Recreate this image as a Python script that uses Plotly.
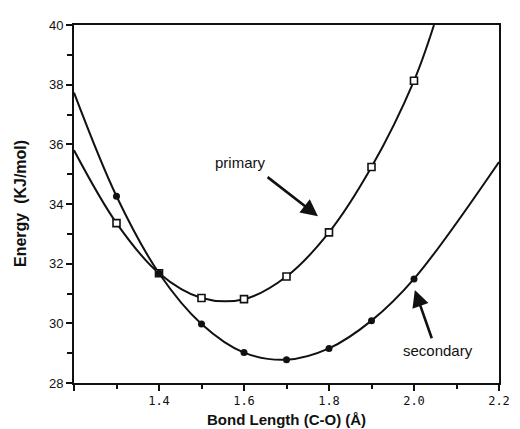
import plotly.graph_objects as go

# Data points
bond_length = [1.3, 1.4, 1.5, 1.6, 1.7, 1.8, 1.9, 2.0]
primary_energy = [33.36, 31.68, 30.85, 30.81, 31.57, 33.05, 35.24, 38.13]
secondary_energy = [34.26, 31.68, 29.98, 29.02, 28.78, 29.16, 30.09, 31.49]

# Fitted curves (including their ends)
primary_curve_x = [1.2, 1.3, 1.4, 1.5, 1.6, 1.7, 1.8, 1.9, 2.0, 2.047]
primary_curve_y = [35.8, 33.36, 31.68, 30.85, 30.81, 31.57, 33.05, 35.24, 38.13, 40.0]
secondary_curve_x = [1.2, 1.3, 1.4, 1.5, 1.6, 1.7, 1.8, 1.9, 2.0, 2.2]
secondary_curve_y = [37.73, 34.26, 31.68, 29.98, 29.02, 28.78, 29.16, 30.09, 31.49, 35.41]

x_tickvals = [1.2, 1.4, 1.6, 1.8, 2.0, 2.2]
x_ticktext = ["", "1.4", "1.6", "1.8", "2.0", "2.2"]
y_tickvals = [28, 30, 32, 34, 36, 38, 40]
y_ticktext = ["28", "30", "32", "34", "36", "38", "40"]

ink = "#111111"

fig = go.Figure()
fig.add_trace(go.Scatter(x=primary_curve_x, y=primary_curve_y, mode="lines",
                         line=dict(color=ink, width=2, shape="spline"), showlegend=False, hoverinfo="skip"))
fig.add_trace(go.Scatter(x=secondary_curve_x, y=secondary_curve_y, mode="lines",
                         line=dict(color=ink, width=2, shape="spline"), showlegend=False, hoverinfo="skip"))
fig.add_trace(go.Scatter(x=bond_length, y=primary_energy, mode="markers", name="primary",
                         marker=dict(symbol="square", size=7, color="white", line=dict(color=ink, width=1.6)),
                         showlegend=False, cliponaxis=False))
fig.add_trace(go.Scatter(x=bond_length, y=secondary_energy, mode="markers", name="secondary",
                         marker=dict(symbol="circle", size=7, color=ink, line=dict(color=ink, width=0)),
                         showlegend=False, cliponaxis=False))

fig.add_annotation(x=1.774, y=33.59, ax=1.652, ay=34.94, xref="x", yref="y", axref="x", ayref="y",
                   text="", showarrow=True, arrowhead=2, arrowsize=1.3, arrowwidth=2.6, arrowcolor=ink)
fig.add_annotation(x=1.592, y=35.40, xref="x", yref="y", text="primary", showarrow=False,
                   font=dict(family="Liberation Sans, Arial", size=15, color=ink))
fig.add_annotation(x=2.002, y=31.12, ax=2.043, ay=29.45, xref="x", yref="y", axref="x", ayref="y",
                   text="", showarrow=True, arrowhead=2, arrowsize=1.3, arrowwidth=2.6, arrowcolor=ink)
fig.add_annotation(x=2.057, y=29.09, xref="x", yref="y", text="secondary", showarrow=False,
                   font=dict(family="Liberation Sans, Arial", size=15, color=ink))

# axis titles
fig.add_annotation(x=0.5, y=0, xref="paper", yref="paper", yshift=-36, text="<b>Bond Length (C-O) (Å)</b>",
                   showarrow=False, yanchor="middle",
                   font=dict(family="Liberation Sans, Arial", size=15, color=ink))
fig.add_annotation(x=0, y=0.5, xref="paper", yref="paper", xshift=-54, text="<b>Energy  (KJ/mol)</b>",
                   showarrow=False, textangle=-90, xanchor="center",
                   font=dict(family="Liberation Sans, Arial", size=16, color=ink))

fig.update_xaxes(range=[1.2, 2.2], tickvals=x_tickvals, ticktext=x_ticktext,
                 ticks="outside", ticklen=6, tickwidth=2, tickcolor=ink,
                 minor=dict(dtick=0.1, tick0=1.2, ticks="outside", ticklen=4, tickwidth=2, tickcolor=ink),
                 showline=True, linewidth=2, linecolor=ink, mirror=True, showgrid=False, zeroline=False,
                 tickfont=dict(family="DejaVu Sans Mono", size=12, color=ink))
fig.update_yaxes(range=[28, 40], tickvals=y_tickvals, ticktext=y_ticktext,
                 ticks="outside", ticklen=6, tickwidth=2, tickcolor=ink,
                 minor=dict(dtick=1, tick0=28, ticks="outside", ticklen=5, tickwidth=2, tickcolor=ink),
                 showline=True, linewidth=2, linecolor=ink, mirror=True, showgrid=False, zeroline=False,
                 tickfont=dict(family="Liberation Sans, Arial", size=13, color=ink))

# page body adds an 8px offset, so the figure is sized to end at the window edges
fig.update_layout(width=512, height=421, margin=dict(l=66, r=12, t=10, b=46),
                  paper_bgcolor="white", plot_bgcolor="white", showlegend=False)

fig.write_html("out.html")
